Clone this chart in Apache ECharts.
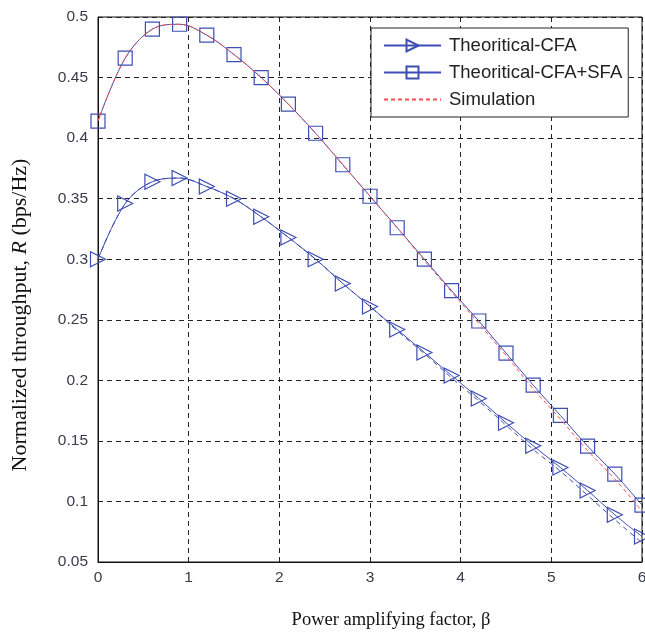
<!DOCTYPE html>
<html>
<head>
<meta charset="utf-8">
<script src="https://cdn.jsdelivr.net/npm/echarts@6/dist/echarts.min.js"></script>
<style>
  html, body { margin: 0; padding: 0; background: #fff; }
  #chart { width: 645px; height: 632px; }
</style>
</head>
<body>
<div id="chart"></div>
<script>
// Power amplifying factor β (sample points)
const beta = [0, 0.3, 0.6, 0.9, 1.2, 1.5, 1.8, 2.1, 2.4, 2.7, 3.0, 3.3, 3.6, 3.9, 4.2, 4.5, 4.8, 5.1, 5.4, 5.7, 6.0];

// Normalized throughput R (bps/Hz)
const theoCFA = [0.300, 0.346, 0.364, 0.367, 0.360, 0.350, 0.335, 0.318, 0.300, 0.280, 0.261, 0.242, 0.223, 0.204, 0.185, 0.165, 0.146, 0.128, 0.109, 0.089, 0.071];
const theoCFASFA = [0.414, 0.466, 0.490, 0.494, 0.485, 0.469, 0.450, 0.428, 0.404, 0.378, 0.352, 0.326, 0.300, 0.274, 0.249, 0.2225, 0.196, 0.171, 0.1457, 0.1226, 0.097];
const simCFA = [0.300, 0.346, 0.364, 0.367, 0.360, 0.350, 0.335, 0.318, 0.300, 0.280, 0.261, 0.241, 0.222, 0.202, 0.183, 0.163, 0.143, 0.125, 0.105, 0.085, 0.066];
const simCFASFA = [0.414, 0.466, 0.490, 0.494, 0.485, 0.469, 0.450, 0.428, 0.404, 0.378, 0.352, 0.326, 0.299, 0.273, 0.247, 0.2205, 0.193, 0.168, 0.142, 0.1186, 0.092];

const xTicks = [0, 1, 2, 3, 4, 5, 6];
const yTicks = [0.05, 0.1, 0.15, 0.2, 0.25, 0.3, 0.35, 0.4, 0.45, 0.5];

const BLUE = '#3e4db3';
const RED = '#ff4d4d';
const SERIF = 'Liberation Serif, Times New Roman, serif';
const SANS = 'Liberation Sans, Arial, sans-serif';
const pairs = (ys) => beta.map((b, i) => [b, ys[i]]);

const chart = echarts.init(document.getElementById('chart'), null, { renderer: 'canvas' });

const gridDash = { show: true, lineStyle: { color: '#222', type: [5, 4], width: 1 } };

chart.setOption({
  animation: false,
  backgroundColor: '#fff',
  grid: {
    left: 98, right: 3, top: 17, bottom: 70,
    containLabel: false,
    outerBoundsMode: 'none',
    show: true, borderColor: '#111', borderWidth: 1, backgroundColor: 'transparent'
  },
  legend: {
    orient: 'vertical',
    left: 371,
    top: 28,
    padding: [8, 6, 8, 12],
    itemGap: 8,
    itemWidth: 57,
    itemHeight: 15,
    backgroundColor: '#fff',
    borderColor: '#222',
    borderWidth: 1,
    textStyle: { fontFamily: SANS, fontSize: 18.5, lineHeight: 19, color: '#222', padding: [0, 0, 0, 3] },
    data: [
      'Theoritical-CFA',
      'Theoritical-CFA+SFA',
      { name: 'Simulation', itemStyle: { opacity: 0, color: 'rgba(0,0,0,0)', borderColor: 'rgba(0,0,0,0)' } }
    ]
  },
  xAxis: {
    type: 'value',
    min: xTicks[0],
    max: xTicks[xTicks.length - 1],
    interval: 1,
    name: 'Power amplifying factor, β',
    nameLocation: 'middle',
    nameGap: 49,
    nameTextStyle: { fontFamily: SERIF, fontSize: 18.5, color: '#111', padding: [0, 0, 0, 42] },
    axisLine: { show: true, onZero: false, lineStyle: { color: '#111' } },
    axisTick: { show: false },
    axisLabel: { fontFamily: SANS, fontSize: 15.5, color: '#3a3a4a', margin: 8 },
    splitLine: gridDash
  },
  yAxis: {
    type: 'value',
    min: yTicks[0],
    max: yTicks[yTicks.length - 1],
    interval: 0.05,
    name: '{a|Normalized throughput, }{i|R}{a| (bps/Hz)}',
    nameLocation: 'middle',
    nameGap: 67,
    nameTextStyle: {
      padding: [0, 51, 0, 0],
      rich: {
        a: { fontFamily: SERIF, fontSize: 22, color: '#111' },
        i: { fontFamily: SERIF, fontSize: 22, color: '#111', fontStyle: 'italic' }
      }
    },
    axisLine: { show: true, onZero: false, lineStyle: { color: '#111' } },
    axisTick: { show: false },
    axisLabel: {
      fontFamily: SANS, fontSize: 15.5, color: '#3a3a4a', margin: 10,
      formatter: (v) => String(+v.toFixed(2))
    },
    splitLine: gridDash
  },
  series: [
    {
      name: 'Theoritical-CFA',
      type: 'line',
      data: pairs(theoCFA),
      smooth: 0.35,
      symbol: 'triangle',
      symbolRotate: -90,
      symbolSize: 15,
      showAllSymbol: true,
      lineStyle: { color: BLUE, width: 1 },
      itemStyle: { color: 'rgba(0,0,0,0)', borderColor: BLUE, borderWidth: 1.2 },
      z: 3
    },
    {
      name: 'Theoritical-CFA+SFA',
      type: 'line',
      data: pairs(theoCFASFA),
      smooth: 0.35,
      symbol: 'rect',
      symbolSize: 14,
      showAllSymbol: true,
      lineStyle: { color: BLUE, width: 1 },
      itemStyle: { color: 'rgba(0,0,0,0)', borderColor: BLUE, borderWidth: 1.2 },
      z: 3
    },
    {
      name: 'Simulation',
      type: 'line',
      data: pairs(simCFASFA),
      smooth: 0.35,
      symbol: 'none',
      lineStyle: { color: RED, width: 1, type: [4, 3] },
      itemStyle: { color: RED },
      z: 5
    },
    {
      name: 'Simulation (CFA)',
      type: 'line',
      data: pairs(simCFA),
      smooth: 0.35,
      symbol: 'none',
      lineStyle: { color: BLUE, width: 1, type: [5, 4] },
      itemStyle: { color: BLUE },
      z: 5
    }
  ]
});
</script>
</body>
</html>
